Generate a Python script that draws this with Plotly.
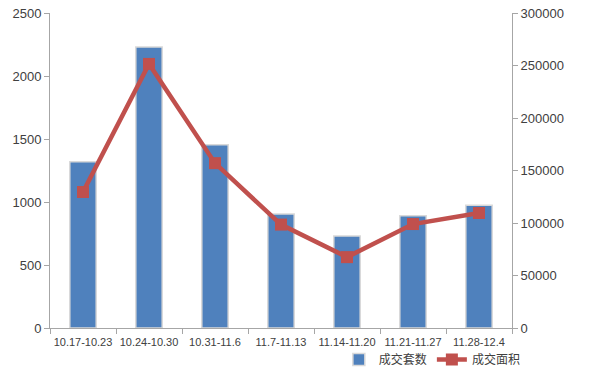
import plotly.graph_objects as go

categories = ["10.17-10.23", "10.24-10.30", "10.31-11.6", "11.7-11.13",
              "11.14-11.20", "11.21-11.27", "11.28-12.4"]
units_sold = [1320, 2230, 1455, 905, 730, 890, 975]
area_sold = [129500, 251500, 157000, 98500, 67500, 99000, 109500]

bar_color = "#4F81BD"
line_color = "#C0504D"
axis_color = "#A6A6A6"
text_color = "#404040"
font_family = "Liberation Sans, Arial, Noto Sans CJK SC, sans-serif"

fig = go.Figure()
fig.add_trace(go.Bar(
    x=categories, y=units_sold, name="成交套数",
    marker=dict(color=bar_color, line=dict(color="#D9D9D9", width=1.5)),
    width=0.4, yaxis="y",
))
fig.add_trace(go.Scatter(
    x=categories, y=area_sold, name="成交面积", mode="lines+markers",
    line=dict(color=line_color, width=4.5),
    marker=dict(symbol="square", size=12, color=line_color),
    yaxis="y2",
))

fig.update_layout(
    width=606, height=375,
    margin=dict(l=50, r=94, t=13, b=47, autoexpand=False),
    paper_bgcolor="white", plot_bgcolor="white",
    font=dict(family=font_family, color=text_color, size=13),
    showlegend=True,
    legend=dict(orientation="h", x=1.03, xanchor="right", y=-0.1, yanchor="middle",
                font=dict(size=12, family="Noto Sans CJK SC, sans-serif", color=text_color),
                itemwidth=30, tracegroupgap=0, bgcolor="rgba(0,0,0,0)"),
    xaxis=dict(
        type="category", showline=True, linecolor=axis_color, linewidth=1,
        ticks="outside", ticklen=5, tickcolor=axis_color, tickson="boundaries",
        tickangle=0, automargin=False, ticklabelstandoff=4,
        tickfont=dict(size=11, color=text_color), showgrid=False, zeroline=False,
    ),
    yaxis=dict(
        range=[0, 2500], dtick=500, showline=True, linecolor=axis_color, linewidth=1,
        ticks="outside", ticklen=5, tickcolor=axis_color, showgrid=False,
        zeroline=False, automargin=False, tickfont=dict(size=13, color=text_color),
    ),
    yaxis2=dict(
        range=[0, 300000], dtick=50000, overlaying="y", side="right",
        showline=True, linecolor=axis_color, linewidth=1, tickformat="d",
        ticks="outside", ticklen=5, tickcolor=axis_color, showgrid=False,
        zeroline=False, automargin=False, tickfont=dict(size=13, color=text_color),
    ),
    bargap=0.6,
)

fig.write_html("out.html")
